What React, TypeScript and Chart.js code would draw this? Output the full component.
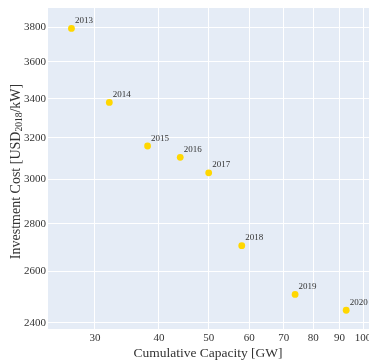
import React, { useEffect, useRef } from "react";
import { Chart, registerables } from "chart.js";

Chart.register(...registerables);

const years = ["2013", "2014", "2015", "2016", "2017", "2018", "2019", "2020"];
const capacityGW = [27, 32, 38, 44, 50, 58, 73.7, 92.7];
const costUSD = [3792, 3380, 3159, 3104, 3030, 2706, 2509, 2448];
const xTicks = [30, 40, 50, 60, 70, 80, 90, 100];
const yTicks = [2400, 2600, 2800, 3000, 3200, 3400, 3600, 3800];

const SERIF = "'Liberation Serif', 'Times New Roman', serif";

export default function App() {
  const ref = useRef<HTMLCanvasElement>(null);
  useEffect(() => {
    document.body.style.margin = "0";
    const canvas = ref.current!;
    const bgPlugin = {
      id: "bg",
      afterLayout(chart: any) {
        const a = chart.chartArea;
        a.right = chart.width;
        a.width = a.right - a.left;
        const xs = chart.scales.x;
        xs.right = a.right;
        xs.width = xs.right - xs.left;
        xs._gridLineItems = null;
        xs._labelItems = null;
        xs.configure();
        const ys = chart.scales.y;
        ys._gridLineItems = null;
        ys._labelItems = null;
      },
      beforeDraw(chart: any) {
        const { ctx, chartArea: a } = chart;
        ctx.save();
        ctx.fillStyle = "#E5ECF6";
        ctx.fillRect(a.left, a.top, a.right - a.left, a.bottom - a.top);
        ctx.restore();
      },
    };
    const labelPlugin = {
      id: "labels",
      afterDraw(chart: any) {
        const { ctx, chartArea: a } = chart;
        const meta = chart.getDatasetMeta(0);
        ctx.save();
        ctx.font = `9px ${SERIF}`;
        ctx.fillStyle = "#333";
        ctx.textAlign = "left";
        ctx.textBaseline = "alphabetic";
        meta.data.forEach((el: any, i: number) => {
          ctx.fillText(years[i], el.x + 3.5, el.y - 5.5);
        });
        // x title
        ctx.font = `13.5px ${SERIF}`;
        ctx.textAlign = "center";
        ctx.textBaseline = "middle";
        ctx.fillText("Cumulative Capacity [GW]", 208, 353);
        // y title with subscript
        const big = `14px ${SERIF}`;
        const small = `9.5px ${SERIF}`;
        const parts = [
          { t: "Investment Cost [USD", f: big, dy: 0 },
          { t: "2018", f: small, dy: 3 },
          { t: "/kW]", f: big, dy: 0 },
        ];
        let total = 0;
        parts.forEach((p) => {
          ctx.font = p.f;
          total += ctx.measureText(p.t).width;
        });
        ctx.translate(16, 171.5);
        ctx.rotate(-Math.PI / 2);
        ctx.textAlign = "left";
        let x = -total / 2;
        parts.forEach((p) => {
          ctx.font = p.f;
          ctx.fillText(p.t, x, p.dy);
          x += ctx.measureText(p.t).width;
        });
        ctx.restore();
      },
    };
    const chart = new Chart(canvas, {
      type: "scatter",
      data: {
        datasets: [
          {
            data: capacityGW.map((x, i) => ({ x, y: costUSD[i] })),
            backgroundColor: "#FFD700",
            borderWidth: 0,
            pointRadius: 3.4,
          },
        ],
      },
      options: {
        responsive: false,
        animation: false,
        layout: { padding: { top: 8, right: 0, left: 0, bottom: 0 } },
        plugins: { legend: { display: false }, tooltip: { enabled: false } },
        scales: {
          x: {
            type: "logarithmic",
            min: 24.3,
            max: 102.7,
            afterBuildTicks(s: any) {
              s.ticks = xTicks.map((v) => ({ value: v }));
            },
            afterFit(s: any) {
              s.height = 35;
              s.paddingRight = 0;
              s.paddingLeft = 0;
            },
            grid: { color: "#ffffff", lineWidth: 1, drawTicks: false },
            border: { display: false },
            ticks: {
              autoSkip: false,
              maxRotation: 0,
              padding: 3,
              color: "#333",
              font: { family: SERIF, size: 11 },
              callback: (v: any) => String(v),
            },
          },
          y: {
            type: "logarithmic",
            min: 2377.7,
            max: 3914,
            afterBuildTicks(s: any) {
              s.ticks = yTicks.map((v) => ({ value: v }));
            },
            afterFit(s: any) {
              s.width = 48;
              s.paddingTop = 0;
              s.paddingBottom = 0;
            },
            grid: { color: "#ffffff", lineWidth: 1, drawTicks: false },
            border: { display: false },
            ticks: {
              autoSkip: false,
              padding: 2,
              color: "#333",
              font: { family: SERIF, size: 11 },
              callback: (v: any) => String(v),
            },
          },
        },
      },
      plugins: [bgPlugin, labelPlugin],
    } as any);
    return () => chart.destroy();
  }, []);
  return (
    <div style={{ width: 369, height: 364 }}>
      <canvas ref={ref} width={369} height={364} />
    </div>
  );
}
